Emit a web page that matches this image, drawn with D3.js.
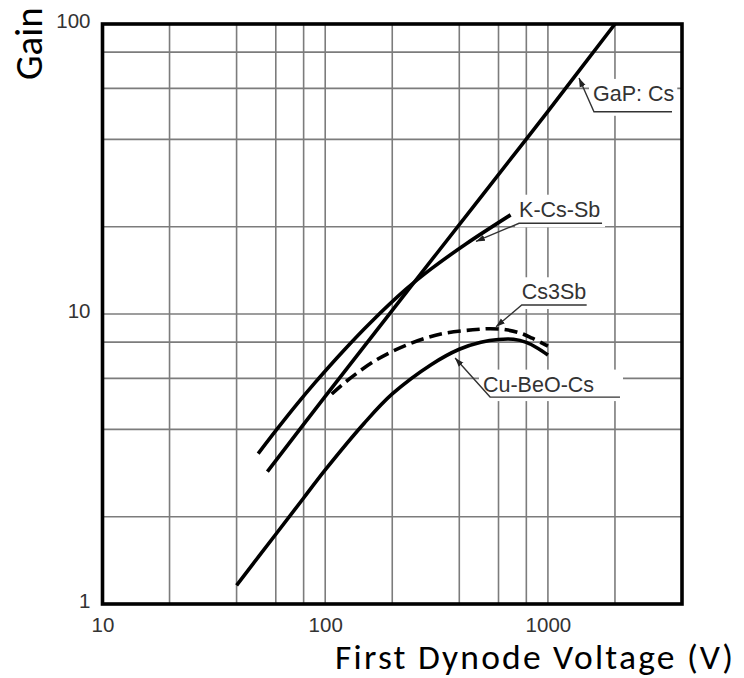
<!DOCTYPE html>
<html>
<head>
<meta charset="utf-8">
<script src="https://cdn.jsdelivr.net/npm/d3@7"></script>
<style>
  html, body { margin: 0; padding: 0; background: #fff; }
  svg { display: block; }
</style>
</head>
<body>
<svg id="chart" width="744" height="678"></svg>
<script>
// ---------- data ----------
const xTickValues = [10, 100, 1000];
const xTickLabels = ["10", "100", "1000"];
const yTickValues = [1, 10, 100];
const yTickLabels = ["1", "10", "100"];
const xGridValues = [20, 40, 60, 80, 200, 400, 600, 800, 2000];
const yGridValues = [2, 4, 6, 8, 20, 40, 60, 80];

const gapVoltage = [55, 100, 200, 500, 1000, 2000];
const gapGain    = [2.86, 5.2, 10.3, 25.3, 50, 100];

const kcssbVoltage = [50, 60, 75, 90, 120, 160, 230, 300, 430, 680];
const kcssbGain    = [3.3, 3.96, 4.91, 5.8, 7.43, 9.35, 12.15, 14.33, 17.47, 21.97];

const cs3sbVoltage = [107, 124, 170, 240, 335, 460, 550, 650, 750, 850, 1000];
const cs3sbGain    = [5.3, 5.85, 6.95, 7.9, 8.55, 8.82, 8.9, 8.82, 8.6, 8.25, 7.75];

const cubeoVoltage = [40, 60, 80, 100, 150, 200, 300, 400, 500, 600, 700, 800, 900, 1000];
const cubeoGain    = [1.16, 1.74, 2.32, 2.9, 4.21, 5.3, 6.7, 7.56, 7.99, 8.17, 8.18, 7.98, 7.62, 7.22];

const seriesNames = ["GaP: Cs", "K-Cs-Sb", "Cs3Sb", "Cu-BeO-Cs"];
const xTitle = "First Dynode Voltage (V)";
const yTitle = "Gain";

// annotation anchors in data units (arrow tip on curve, label underline start/end, text baseline)
const annTipV   = [1379, 475, 585, 383];
const annTipG   = [65.1, 17.8, 9.04, 7.05];
const annLineV0 = [1610, 742, 763, 550];
const annLineV1 = [3606, 1750, 1493, 2107];
const annLineG  = [49.8, 20.55, 10.74, 5.17];
const annTextV  = [1594, 742, 763, 511];
const annTextG  = [54.3, 21.65, 11.24, 5.40];

// ---------- layout ----------
const svg = d3.select("#chart");
const pL = 102.5, pR = 682, pT = 24, pB = 604;

const x = d3.scaleLog().domain([10, 4000]).range([pL, pR]);
const y = d3.scaleLog().domain([1, 100]).range([pB, pT]);

// grid
const grid = svg.append("g").attr("stroke", "#7c7c7c").attr("stroke-width", 1.6);
grid.selectAll("line.vx").data(xGridValues.concat(xTickValues.slice(1))).join("line")
  .attr("class", "vx")
  .attr("x1", d => x(d)).attr("x2", d => x(d)).attr("y1", pT).attr("y2", pB);
grid.selectAll("line.hy").data(yGridValues.concat([10])).join("line")
  .attr("class", "hy")
  .attr("y1", d => y(d)).attr("y2", d => y(d)).attr("x1", pL).attr("x2", pR);

// axes (tick labels via d3 axes)
const xAxis = d3.axisBottom(x).tickValues(xTickValues)
  .tickFormat((d, i) => xTickLabels[i]).tickSize(0).tickPadding(13);
const gx = svg.append("g").attr("transform", `translate(0,${pB})`).call(xAxis);
gx.select(".domain").remove();
gx.selectAll("text").attr("font-family", "Liberation Sans, Arial, sans-serif")
  .attr("font-size", 20.5).attr("fill", "#333");

const yAxis = d3.axisLeft(y).tickValues(yTickValues)
  .tickFormat((d, i) => yTickLabels[i]).tickSize(0).tickPadding(12);
const gy = svg.append("g").attr("transform", `translate(${pL},0)`).call(yAxis);
gy.select(".domain").remove();
gy.selectAll("text").attr("font-family", "Liberation Sans, Arial, sans-serif")
  .attr("font-size", 20.5).attr("fill", "#333").attr("dy", "0.15em");

// label backgrounds + text (measure first)
const labelFont = "Liberation Sans, Arial, sans-serif";
const labels = svg.append("g");
const bgLayer = labels.append("g");
const textLayer = labels.append("g");
seriesNames.forEach((name, i) => {
  const t = textLayer.append("text")
    .attr("x", x(annTextV[i])).attr("y", y(annTextG[i]))
    .attr("font-family", labelFont).attr("font-size", 21.5).attr("fill", "#333")
    .text(name);
  const bb = t.node().getBBox();
  const x0 = Math.min(bb.x, x(annLineV0[i])) - 4;
  const x1 = Math.max(bb.x + bb.width, x(annLineV1[i])) + 3;
  bgLayer.append("rect")
    .attr("x", x0).attr("y", bb.y - 3)
    .attr("width", x1 - x0).attr("height", y(annLineG[i]) + 4 - (bb.y - 3))
    .attr("fill", "#fff");
});

// frame
svg.append("rect").attr("x", pL).attr("y", pT)
  .attr("width", pR - pL).attr("height", pB - pT)
  .attr("fill", "none").attr("stroke", "#000").attr("stroke-width", 3.6);

// curves
const line = d3.line().x(d => x(d[0])).y(d => y(d[1])).curve(d3.curveCatmullRom.alpha(0.5));
const curves = [
  { v: gapVoltage, g: gapGain, dash: null },
  { v: kcssbVoltage, g: kcssbGain, dash: null },
  { v: cs3sbVoltage, g: cs3sbGain, dash: "13,6" },
  { v: cubeoVoltage, g: cubeoGain, dash: null }
];
svg.append("g").selectAll("path").data(curves).join("path")
  .attr("d", c => line(c.v.map((v, i) => [v, c.g[i]])))
  .attr("fill", "none").attr("stroke", "#000").attr("stroke-width", 3.6)
  .attr("stroke-dasharray", c => c.dash);

// leader lines with arrowheads
svg.append("defs").append("marker")
  .attr("id", "arr").attr("viewBox", "0 0 10 10").attr("refX", 10).attr("refY", 5)
  .attr("markerWidth", 9).attr("markerHeight", 9).attr("markerUnits", "userSpaceOnUse")
  .attr("orient", "auto")
  .append("path").attr("d", "M0,1.5 L10,5 L0,8.5 Z").attr("fill", "#222");

const leaders = svg.append("g");
seriesNames.forEach((name, i) => {
  leaders.append("path")
    .attr("d", `M${x(annLineV1[i])},${y(annLineG[i])} L${x(annLineV0[i])},${y(annLineG[i])} L${x(annTipV[i])},${y(annTipG[i])}`)
    .attr("fill", "none").attr("stroke", "#333").attr("stroke-width", 1.4)
    .attr("marker-end", "url(#arr)");
});

// axis titles
const titleFont = "Carlito, Lato, 'Open Sans', sans-serif";
svg.append("text").attr("font-family", titleFont).attr("font-size", 35.5)
  .attr("fill", "#000").attr("x", 335).attr("y", 669)
  .attr("textLength", 398).attr("lengthAdjust", "spacing")
  .text(xTitle);

svg.append("text").attr("font-family", titleFont).attr("font-size", 39)
  .attr("fill", "#000").attr("transform", "translate(42,80) rotate(-90)")
  .text(yTitle);
</script>
</body>
</html>
